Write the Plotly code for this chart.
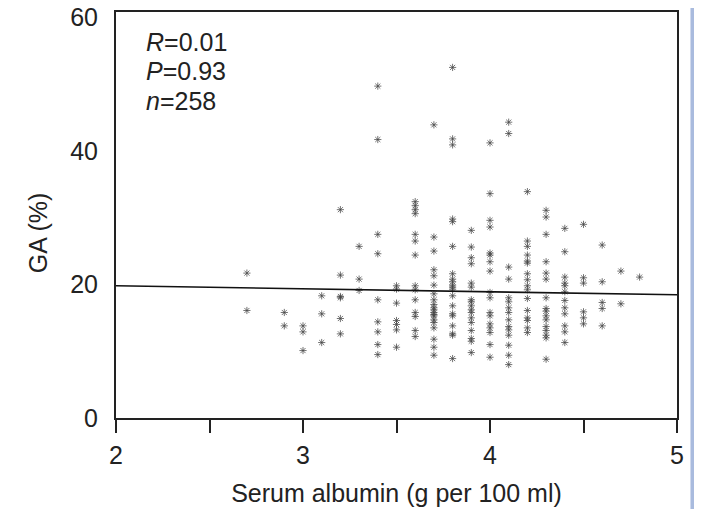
import plotly.graph_objects as go

# Albumin levels (g per 100 ml) and GA (%) values read at each level
albumin_levels = [2.7, 2.9, 3.0, 3.1, 3.2, 3.3, 3.4, 3.5, 3.6, 3.7, 3.8,
                  3.9, 4.0, 4.1, 4.2, 4.3, 4.4, 4.5, 4.6, 4.7, 4.8]
ga_27 = [21.7, 16.1]
ga_29 = [15.8, 13.8]
ga_30 = [13.8, 12.9, 10.1]
ga_31 = [18.3, 15.6, 11.3]
ga_32 = [31.2, 21.4, 18.2, 18.0, 14.9, 12.6]
ga_33 = [25.7, 20.8, 19.1]
ga_34 = [49.7, 41.7, 27.5, 24.6, 17.7, 14.4, 12.9, 11.0, 9.5]
ga_35 = [19.8, 19.3, 17.2, 14.6, 14.0, 13.2, 10.6]
ga_36 = [32.4, 31.8, 31.2, 30.6, 27.5, 26.5, 24.4, 19.8, 19.2, 17.7, 15.8,
         15.2, 13.1, 12.2]
ga_37 = [43.9, 27.1, 25.0, 22.2, 21.3, 19.9, 18.6, 17.7, 17.0, 16.5, 16.2,
         15.8, 15.5, 15.3, 14.7, 14.3, 13.5, 11.8, 10.6, 9.4]
ga_38 = [52.5, 41.8, 40.9, 29.8, 29.4, 25.7, 21.6, 20.8, 20.4, 19.9, 19.6,
         19.3, 18.3, 16.8, 15.6, 15.3, 13.8, 12.6, 12.4, 8.9]
ga_39 = [28.1, 25.6, 24.0, 23.1, 20.2, 19.6, 17.7, 17.4, 16.8, 16.2, 15.8,
         15.0, 14.3, 13.1, 11.9, 11.5, 9.8]
ga_40 = [41.2, 33.6, 29.6, 28.6, 24.7, 24.4, 23.4, 22.0, 18.8, 18.0, 15.8,
         15.3, 14.1, 13.5, 12.8, 11.0, 9.1]
ga_41 = [44.3, 42.6, 22.6, 20.8, 18.0, 17.4, 16.5, 15.8, 14.7, 13.7, 13.2,
         12.4, 10.9, 9.4, 8.0]
ga_42 = [33.9, 26.5, 25.7, 24.4, 23.5, 23.2, 21.6, 20.7, 19.8, 19.2, 17.9,
         16.1, 15.0, 14.6, 13.5, 12.8]
ga_43 = [31.1, 30.1, 27.5, 23.4, 21.7, 20.8, 18.0, 16.4, 16.0, 15.3, 14.7,
         13.7, 13.1, 12.4, 12.0, 8.8]
ga_44 = [28.4, 24.9, 21.1, 20.2, 19.8, 18.9, 17.6, 16.5, 15.6, 13.8, 12.9, 11.3]
ga_45 = [29.0, 21.0, 20.2, 15.9, 15.0, 14.1]
ga_46 = [25.9, 20.4, 17.3, 16.4, 13.8]
ga_47 = [22.0, 17.1]
ga_48 = [21.1]
ga_columns = [ga_27, ga_29, ga_30, ga_31, ga_32, ga_33, ga_34, ga_35, ga_36,
              ga_37, ga_38, ga_39, ga_40, ga_41, ga_42, ga_43, ga_44, ga_45,
              ga_46, ga_47, ga_48]

# Regression line end points
reg_x = [2.0, 5.0]
reg_y = [19.8, 18.45]

stats_labels = ["<i>R</i>=0.01", "<i>P</i>=0.93", "<i>n</i>=258"]
stats_y = [56.3, 51.9, 47.5]

x_tickvals = [2, 2.5, 3, 3.5, 4, 4.5, 5]
x_ticktext = ["2", "", "3", "", "4", "", "5"]
y_tickvals = [0, 20, 40, 60]

xs, ys = [], []
for lvl, col in zip(albumin_levels, ga_columns):
    xs.extend([lvl] * len(col))
    ys.extend(col)

FONT = "Liberation Sans, Arial, sans-serif"
FS = 25
fig = go.Figure()
fig.add_trace(go.Scatter(
    x=xs, y=ys, mode="markers",
    marker=dict(symbol="asterisk-open", size=6,
                color="rgba(70,70,70,0.75)",
                line=dict(width=1, color="rgba(70,70,70,0.75)")),
    showlegend=False, hoverinfo="skip"))
fig.add_trace(go.Scatter(
    x=reg_x, y=reg_y, mode="lines",
    line=dict(color="#111111", width=1.6),
    showlegend=False, hoverinfo="skip"))

for txt, yy in zip(stats_labels, stats_y):
    fig.add_annotation(x=2.15, y=yy, xref="x", yref="y", text=txt,
                       showarrow=False, xanchor="left", yanchor="middle",
                       font=dict(family=FONT, size=FS, color="#222222"))

# y-axis title placed as a rotated annotation
fig.add_annotation(x=-0.139, y=0.455, xref="paper", yref="paper",
                   text="GA (%)", textangle=-90, showarrow=False,
                   xanchor="center", yanchor="middle",
                   font=dict(family=FONT, size=FS, color="#222222"))

fig.update_layout(
    width=702, height=509,
    margin=dict(l=108, r=33, t=4, b=99, autoexpand=False),
    paper_bgcolor="white", plot_bgcolor="white",
    font=dict(family=FONT, size=FS, color="#222222"),
    shapes=[dict(type="rect", xref="paper", yref="paper",
                 x0=1.024, x1=1.07, y0=-0.3, y1=1.1,
                 fillcolor="#a9bbde", line=dict(width=0), layer="above")],
)
fig.update_xaxes(
    range=[2, 5], tickvals=x_tickvals, ticktext=x_ticktext,
    ticks="outside", ticklen=13, tickwidth=2, tickcolor="#222222",
    ticklabelstandoff=1,
    showline=True, linewidth=2, linecolor="#222222", mirror=True,
    showgrid=False, zeroline=False,
    title=dict(text="Serum albumin (g per 100 ml)", standoff=16,
               font=dict(size=FS)),
    tickfont=dict(size=FS))
fig.update_yaxes(
    range=[0, 60.8], tickvals=y_tickvals,
    ticks="outside", ticklen=11, tickcolor="rgba(0,0,0,0)",
    ticklabeloverflow="allow",
    showline=True, linewidth=2, linecolor="#222222", mirror=True,
    showgrid=False, zeroline=False,
    tickfont=dict(size=FS))

fig.write_html("out.html")
